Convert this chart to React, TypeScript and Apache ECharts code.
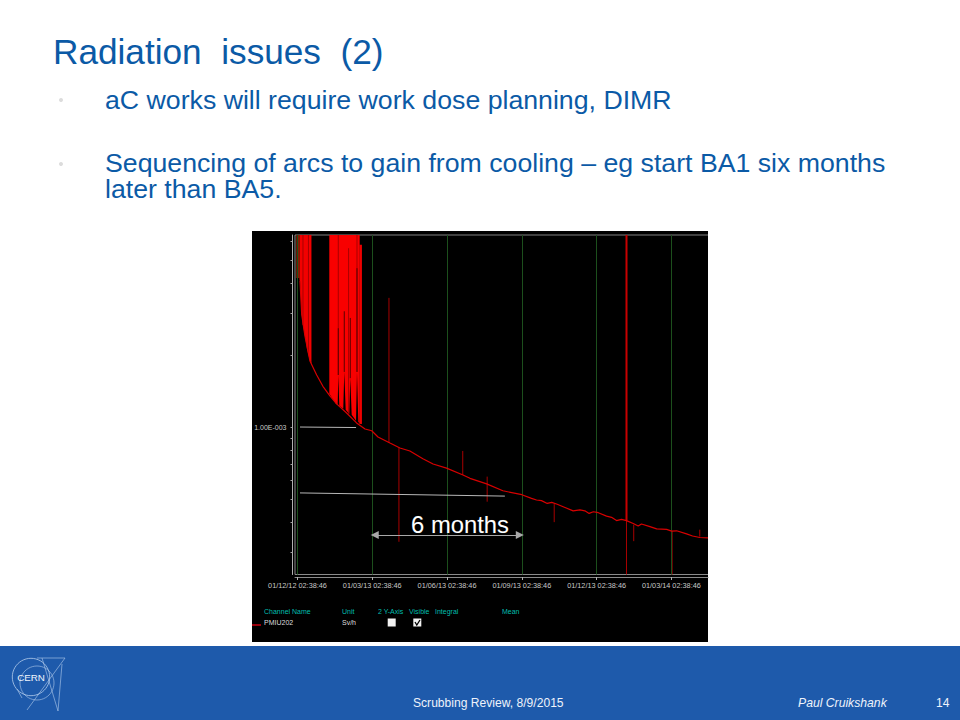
import React, { useEffect, useRef } from "react";
import * as echarts from "echarts";

const FONT = "'Liberation Sans', Arial, sans-serif";

// x = months since 01/12/12, y = Sv/h
const tickMonths = [0, 3, 6, 9, 12, 15];
const tickLabels = ["01/12/12 02:38:46", "01/03/13 02:38:46", "01/06/13 02:38:46", "01/09/13 02:38:46", "01/12/13 02:38:46", "01/03/14 02:38:46"];
const yMinorTicks = [3e-4, 4e-4, 5e-4, 6e-4, 7e-4, 8e-4, 9e-4, 1e-3, 2e-3, 3e-3, 4e-3, 5e-3, 6e-3];
const yLabelValues = [1e-3];
const Y_MIN = 0.2415e-3;
const Y_MAX = 6.36e-3;
const X_MIN = -0.1;
const X_MAX = 16.47;

const decayCurve: [number, number][] = [
  [0.1, 4.08e-3], [0.17, 2.95e-3], [0.3, 2.4e-3], [0.5, 1.89e-3], [0.77, 1.65e-3], [1.02, 1.48e-3],
  [1.3, 1.35e-3], [1.57, 1.25e-3], [1.97, 1.145e-3], [2.37, 1.04e-3], [2.71, 0.981e-3], [2.98, 0.965e-3],
  [3.23, 0.908e-3], [3.71, 0.857e-3], [4.11, 0.817e-3], [4.51, 0.794e-3], [5.03, 0.737e-3], [5.44, 0.7e-3],
  [5.98, 0.673e-3], [6.64, 0.63e-3], [6.92, 0.61e-3], [7.59, 0.578e-3], [8.24, 0.541e-3], [9.0, 0.521e-3],
  [9.39, 0.503e-3], [9.59, 0.495e-3], [9.79, 0.492e-3], [10.02, 0.479e-3], [10.2, 0.484e-3], [10.42, 0.475e-3],
  [10.66, 0.464e-3], [11.06, 0.446e-3], [11.33, 0.45e-3], [11.53, 0.446e-3], [11.7, 0.435e-3], [11.87, 0.442e-3],
  [12.07, 0.438e-3], [12.4, 0.424e-3], [12.6, 0.419e-3], [12.8, 0.406e-3], [13.0, 0.411e-3], [13.2, 0.406e-3],
  [13.47, 0.395e-3], [13.67, 0.385e-3], [13.8, 0.393e-3], [14.14, 0.383e-3], [14.41, 0.375e-3], [14.81, 0.373e-3],
  [15.01, 0.367e-3], [15.21, 0.368e-3], [15.61, 0.357e-3], [15.85, 0.35e-3], [16.14, 0.345e-3], [16.47, 0.344e-3],
];

const earlyBand: [number, number][] = [
  [0.08, 6.36e-3], [0.08, 4.1e-3], [0.1, 4.08e-3], [0.17, 2.95e-3], [0.22, 2.67e-3], [0.3, 2.4e-3],
  [0.38, 2.12e-3], [0.5, 1.89e-3], [0.56, 1.84e-3], [0.56, 6.36e-3],
];

const denseBand: [number, number][] = [
  [1.276, 6.36e-3], [1.276, 1.378e-3], [1.544, 1.248e-3], [1.612, 1.24e-3], [1.637, 1.65e-3], [1.677, 1.228e-3],
  [1.837, 1.193e-3], [1.877, 1.7e-3], [1.933, 1.181e-3], [2.078, 1.133e-3], [2.118, 1.6e-3], [2.174, 1.126e-3],
  [2.347, 1.063e-3], [2.387, 1.7e-3], [2.439, 1.05e-3], [2.495, 1.039e-3], [2.495, 6.36e-3],
];

// [month, low, high]
const brightSpikes: [number, number, number][] = [[2.535, 1.03e-3, 5.79e-3]];
const thinSpikes: [number, number, number][] = [
  [3.67, 0.857e-3, 3.47e-3], [4.07, 0.331e-3, 0.817e-3], [6.63, 0.63e-3, 0.794e-3], [7.61, 0.487e-3, 0.62e-3],
  [10.3, 0.4e-3, 0.476e-3], [13.49, 0.333e-3, 0.39e-3], [15.03, 0.2415e-3, 0.368e-3], [16.14, 0.348e-3, 0.372e-3],
  [13.2, 0.2415e-3, 0.406e-3],
];
const thickSpikes: [number, number, number][] = [[13.2, 0.406e-3, 6.36e-3]];
const darkStripes: [number, number, number][] = [
  [0.22, 2.67e-3, 6.36e-3], [0.44, 2.0e-3, 6.36e-3], [1.637, 1.65e-3, 6.36e-3], [2.05, 1.14e-3, 5.6e-3], [2.387, 1.7e-3, 6.36e-3],
];
const blackStripes: [number, number, number][] = [
  [1.637, 1.65e-3, 2.59e-3], [1.877, 1.7e-3, 3.05e-3], [2.118, 1.6e-3, 2.86e-3], [2.387, 1.7e-3, 4.62e-3],
];
const rustSpikes: [number, number, number][] = [[0.02, 4.2e-3, 6.36e-3]];

const refLine1: [number, number][] = [[0.1, 1.0e-3], [2.35, 0.995e-3]];
const refLine2: [number, number][] = [[0.1, 0.53e-3], [8.32, 0.514e-3]];
const arrowSpan: [number, number][] = [[3.1, 0.353e-3], [8.92, 0.353e-3]];

const legendHeaders: [string, number][] = [["Channel Name", 264], ["Unit", 342], ["2 Y-Axis", 378], ["Visible", 409], ["Integral", 435], ["Mean", 502]];
const legendValues: [string, number][] = [["PMIU202", 264], ["Sv/h", 342]];

function spikeData(list: [number, number, number][]) {
  const out: (number | null)[][] = [];
  list.forEach(([m, lo, hi]) => {
    out.push([m, lo], [m, hi], [m, null]);
  });
  return out;
}

function spikeSeries(list: [number, number, number][], color: string, width: number, z: number) {
  return {
    type: "line", data: spikeData(list), showSymbol: false, symbol: "none", z, silent: true,
    lineStyle: { color, width }, connectNulls: false,
  };
}

function text(t: string, x: number, y: number, size: number, fill: string, extra: any = {}) {
  return {
    type: "text", x, y, z: 50, silent: true,
    style: { text: t, fontFamily: FONT, fontSize: size, fill, verticalAlign: "middle", ...extra },
  };
}

function seg(x1: number, y1: number, x2: number, y2: number, stroke: string, lineWidth: number, z = 1) {
  return { type: "line", z, silent: true, shape: { x1, y1, x2, y2 }, style: { stroke, lineWidth } };
}

export default function App() {
  const ref = useRef<HTMLDivElement>(null);
  useEffect(() => {
    const chart = echarts.init(ref.current!, null, { renderer: "svg" });
    const BLUE = "#0b5aa6";
    const LOGO = "#b4cdec";
    const CYAN = "#00bfae";
    const graphic: any[] = [
      { type: "rect", z: -10, silent: true, shape: { x: 252, y: 231, width: 456, height: 411 }, style: { fill: "#000" } },
      { type: "rect", z: -10, silent: true, shape: { x: 0, y: 646, width: 960, height: 74 }, style: { fill: "#1e5aab" } },
      seg(295, 235, 708, 235, "#808080", 1),
      seg(295, 235, 295, 574.5, "#8a8a8a", 1),
      seg(295, 574.5, 708, 574.5, "#8a8a8a", 1),
      text("Radiation  issues  (2)", 53, 51, 35.2, BLUE),
      text("aC works will require work dose planning, DIMR", 105, 99.5, 26.7, BLUE),
      text("Sequencing of arcs to gain from cooling \u2013 eg start BA1 six months", 105, 162.5, 26.7, BLUE),
      text("later than BA5.", 105, 188.5, 26.7, BLUE),
      { type: "circle", z: 1, silent: true, shape: { cx: 61, cy: 100, r: 2 }, style: { fill: "#dcdcdc" } },
      { type: "circle", z: 1, silent: true, shape: { cx: 61, cy: 164, r: 2 }, style: { fill: "#dcdcdc" } },
      text("6 months", 460, 524, 23.8, "#fff", { align: "center", stroke: "#222", lineWidth: 0.5 }),
      ...legendHeaders.map(([t, x]) => text(t, x, 611, 7, CYAN)),
      ...legendValues.map(([t, x]) => text(t, x, 622.5, 7, "#dedede")),
      seg(252, 625, 261, 625, "#c00010", 1.6, 20),
      { type: "rect", z: 20, silent: true, shape: { x: 387.7, y: 618.5, width: 8, height: 8 }, style: { fill: "#f2f2f2" } },
      { type: "rect", z: 20, silent: true, shape: { x: 413.3, y: 618.5, width: 8, height: 8 }, style: { fill: "#f2f2f2" } },
      { type: "polyline", z: 21, silent: true, shape: { points: [[415, 622], [416.8, 625], [420, 620]] }, style: { stroke: "#000", lineWidth: 1.3, fill: "none" } },
      text("Scrubbing Review, 8/9/2015", 413, 703, 12.1, "#eef3fb"),
      text("Paul Cruikshank", 798, 703, 12.2, "#eef3fb", { fontStyle: "italic" }),
      text("14", 936, 703, 12, "#eef3fb"),
      { type: "circle", z: 1, silent: true, shape: { cx: 31, cy: 677, r: 18.7 }, style: { fill: "none", stroke: LOGO, lineWidth: 0.8 } },
      { type: "circle", z: 1, silent: true, shape: { cx: 37, cy: 683, r: 17 }, style: { fill: "none", stroke: LOGO, lineWidth: 0.6 } },
      seg(37, 658, 65, 658, LOGO, 0.6),
      seg(65, 658, 27, 710, LOGO, 0.6),
      seg(42, 658, 58, 711, LOGO, 0.6),
      seg(62, 664, 58, 711, LOGO, 0.6),
      seg(17, 689, 22, 698, LOGO, 0.6),
      text("CERN", 31, 677, 9.8, "#f0f5fc", { align: "center" }),
    ];

    chart.setOption({
      animation: false,
      backgroundColor: "#ffffff",
      grid: { left: 295, right: 252, top: 235, bottom: 145.5, containLabel: false },
      xAxis: {
        type: "value", min: X_MIN, max: X_MAX, offset: 2.5, splitLine: { show: false },
        axisLine: { show: true, onZero: false, lineStyle: { color: "#8a8a8a", width: 1 } },
        axisTick: { show: true, customValues: tickMonths, length: 3, lineStyle: { color: "#b0b0b0" } },
        axisLabel: {
          customValues: tickMonths, margin: 5, fontSize: 7.3, fontFamily: FONT, color: "#c8c8c8",
          formatter: (v: number) => tickLabels[tickMonths.indexOf(Math.round(v))] ?? "",
        },
      },
      yAxis: {
        type: "log", logBase: 10, min: Y_MIN, max: Y_MAX, offset: 2.5, splitLine: { show: false }, minorTick: { show: false },
        axisLine: { show: true, onZero: false, lineStyle: { color: "#b0b0b0", width: 1 } },
        axisTick: { show: true, customValues: yMinorTicks, length: 2, lineStyle: { color: "#a0a0a0" } },
        axisLabel: {
          customValues: yLabelValues, margin: 6, fontSize: 7, fontFamily: FONT, color: "#c8c8c8",
          formatter: () => "1.00E-003",
        },
      },
      graphic,
      series: [
        {
          type: "line", data: [], z: 1, silent: true,
          markLine: {
            silent: true, symbol: "none", label: { show: false }, animation: false,
            lineStyle: { color: "#1c4f1c", width: 1, type: "solid" },
            data: tickMonths.map((m) => ({ xAxis: m })),
          },
        },
        { type: "line", data: earlyBand, z: 3, symbol: "none", silent: true, lineStyle: { width: 0 }, areaStyle: { color: "#f20000", opacity: 1, origin: "end" } },
        { type: "line", data: denseBand, z: 3, symbol: "none", silent: true, lineStyle: { width: 0 }, areaStyle: { color: "#f80000", opacity: 1, origin: "end" } },
        spikeSeries(rustSpikes, "#8b1a00", 3.5, 3),
        spikeSeries(darkStripes, "#a80000", 1, 4),
        spikeSeries(blackStripes, "#5a0000", 1, 4),
        spikeSeries(brightSpikes, "#ee0000", 2.5, 4),
        spikeSeries(thinSpikes, "#a80000", 1, 4),
        spikeSeries(thickSpikes, "#c80000", 2, 4),
        { type: "line", data: decayCurve, z: 5, symbol: "none", silent: true, lineStyle: { color: "#d80000", width: 1.2 } },
        { type: "line", data: refLine1, z: 6, symbol: "none", silent: true, lineStyle: { color: "#b8b8b8", width: 1 } },
        { type: "line", data: refLine2, z: 6, symbol: "none", silent: true, lineStyle: { color: "#b8b8b8", width: 1 } },
        {
          type: "line", data: [], z: 6, silent: true,
          markLine: {
            silent: true, symbol: ["triangle", "triangle"], symbolSize: 8, label: { show: false }, animation: false,
            lineStyle: { color: "#a8a8a8", width: 1.2, type: "solid" },
            data: [[{ coord: arrowSpan[0] }, { coord: arrowSpan[1] }]],
          },
        },
      ],
    });
    return () => chart.dispose();
  }, []);
  return <div ref={ref} style={{ position: "fixed", left: 0, top: 0, width: 960, height: 720 }} />;
}
